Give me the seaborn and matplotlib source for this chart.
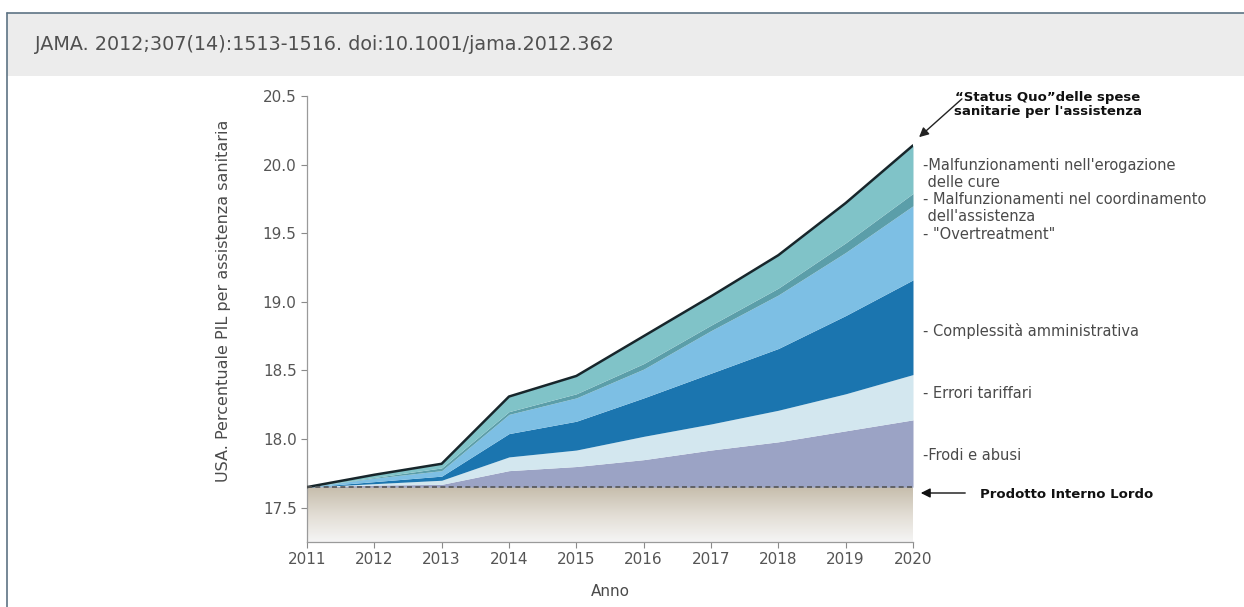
import numpy as np
import pandas as pd
import matplotlib
matplotlib.use("Agg")
import matplotlib.pyplot as plt
from matplotlib.patches import Rectangle
import seaborn as sns

# DATA (percentage points of GDP)

years = [2011, 2012, 2013, 2014, 2015, 2016, 2017, 2018, 2019, 2020]
gdp = [17.65] * 10

frodi = [0, 0.015, 0.02, 0.12, 0.15, 0.20, 0.27, 0.33, 0.41, 0.49]
errori = [0, 0.01, 0.03, 0.10, 0.12, 0.17, 0.19, 0.23, 0.27, 0.33]
complessita = [0, 0.015, 0.03, 0.17, 0.21, 0.28, 0.37, 0.45, 0.57, 0.69]
overtreatment = [0, 0.025, 0.04, 0.14, 0.17, 0.21, 0.31, 0.39, 0.46, 0.54]
coordinamento = [0, 0.005, 0.02, 0.02, 0.03, 0.04, 0.04, 0.05, 0.07, 0.09]
erogazione = [0, 0.02, 0.03, 0.11, 0.13, 0.20, 0.21, 0.24, 0.29, 0.35]

layer_colors = ['#9ba3c5', '#d3e7ef', '#1b75af', '#7dbfe4', '#5b9ea9', '#80c3c8']

y_ticks = [17.5, 18.0, 18.5, 19.0, 19.5, 20.0, 20.5]

W, H = 1244, 607


def px(x, y):
    # pixel position (from top-left) -> figure fraction
    return x / W, 1 - y / H


# FIGURE

sns.set_style("ticks")
plt.rcParams['font.family'] = ['DejaVu Sans']

fig = plt.figure(figsize=(W / 100, H / 100), dpi=100)
fig.patch.set_facecolor('white')

# header band + frame
fig.patches.append(Rectangle(px(7, 76), (W - 7) / W, 63 / H,
                             transform=fig.transFigure,
                             facecolor='#ececec', edgecolor='none', zorder=0))
fig.add_artist(plt.Line2D([7 / W, 1], [1 - 13 / H, 1 - 13 / H],
                          transform=fig.transFigure, color='#5d7384', lw=1.2))
fig.add_artist(plt.Line2D([7 / W, 7 / W], [0, 1 - 13 / H],
                          transform=fig.transFigure, color='#5d7384', lw=1.2))
fig.text(*px(35, 45), "JAMA. 2012;307(14):1513-1516. doi:10.1001/jama.2012.362",
         fontsize=13.8, color='#505050', va='center', ha='left')

ax = fig.add_axes([307 / W, 1 - 542 / H, 606 / W, 446 / H])
ax.set_facecolor('none')

# GDP baseline region with a soft gradient
grad = np.linspace(0, 1, 256).reshape(-1, 1)
cmap = matplotlib.colors.LinearSegmentedColormap.from_list(
    'gdp', ['#f5f5f5', '#e2ddd4', '#c6bdac'])
ax.imshow(grad, extent=[2011, 2020, 17.25, gdp[0]], origin='lower',
          aspect='auto', cmap=cmap, zorder=0)

# stacked waste categories on top of GDP
ax.stackplot(years, gdp, frodi, errori, complessita, overtreatment,
             coordinamento, erogazione,
             colors=['none'] + layer_colors, linewidth=0, zorder=1)

total = np.sum([gdp, frodi, errori, complessita, overtreatment,
                coordinamento, erogazione], axis=0)

df = pd.DataFrame({'Anno': years, 'total': total, 'gdp': gdp})
sns.lineplot(data=df, x='Anno', y='total', color='#17262b', lw=1.8, ax=ax, zorder=3)
sns.lineplot(data=df, x='Anno', y='gdp', color='#555555', lw=1.2,
             linestyle=(0, (3, 2)), ax=ax, zorder=3)

ax.set_xlim(2011, 2020)
ax.set_ylim(17.25, 20.5)
ax.set_xticks(years)
ax.set_yticks(y_ticks)
ax.set_yticklabels([f"{v:.1f}" for v in y_ticks])
ax.tick_params(colors='#8a8a8a', labelcolor='#555555', labelsize=11,
               length=4, width=0.8)
for s in ['top', 'right']:
    ax.spines[s].set_visible(False)
for s in ['left', 'bottom']:
    ax.spines[s].set_color('#9a9a9a')
    ax.spines[s].set_linewidth(0.9)

ax.set_xlabel("Anno", fontsize=11, color='#4a4a4a', labelpad=12)
ax.set_ylabel("USA. Percentuale PIL per assistenza sanitaria", fontsize=11.5,
              color='#4a4a4a')
ax.yaxis.set_label_coords(-0.125, 0.54)

# right-hand annotations
lab = dict(fontsize=10.5, color='#4a4a4a', va='center', ha='left')
fig.text(*px(923, 174), "-Malfunzionamenti nell'erogazione\n delle cure",
         linespacing=1.2, **lab)
fig.text(*px(923, 208), "- Malfunzionamenti nel coordinamento\n dell'assistenza",
         linespacing=1.2, **lab)
fig.text(*px(923, 234), '- "Overtreatment"', **lab)
fig.text(*px(923, 331), "- Complessità amministrativa", **lab)
fig.text(*px(923, 394), "- Errori tariffari", **lab)
fig.text(*px(923, 455), "-Frodi e abusi", **lab)

fig.text(*px(1048, 104), "\u201cStatus Quo\u201ddelle spese\nsanitarie per l'assistenza",
         fontsize=9.5, fontweight='bold', color='#111111', ha='center',
         va='center', linespacing=1.1)
ax.annotate("", xy=px(917, 139), xycoords='figure fraction',
            xytext=px(964, 97), textcoords='figure fraction',
            arrowprops=dict(arrowstyle='-|>', color='#222222', lw=1,
                            mutation_scale=14))

ax.annotate("", xy=px(918, 493), xycoords='figure fraction',
            xytext=px(968, 493), textcoords='figure fraction',
            arrowprops=dict(arrowstyle='-|>', color='#111111', lw=1,
                            mutation_scale=14))
fig.text(*px(980, 494), "Prodotto Interno Lordo", fontsize=9.5,
         fontweight='bold', color='#111111', va='center', ha='left')

plt.savefig("out.png", dpi=100)
